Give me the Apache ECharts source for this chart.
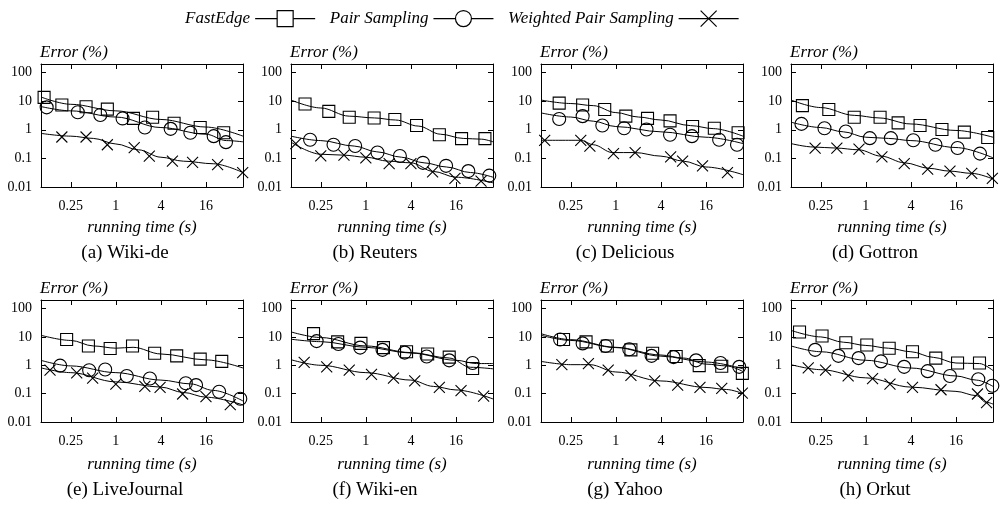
<!DOCTYPE html>
<html>
<head>
<meta charset="utf-8">
<script src="https://cdn.jsdelivr.net/npm/echarts@6/dist/echarts.min.js"></script>
<style>html,body{margin:0;padding:0;background:#fff;}#c{width:1000px;height:511px;}</style>
</head>
<body>
<div id="c"></div>
<script>
// ---------- DATA ----------
const methods = ['FastEdge', 'Pair Sampling', 'Weighted Pair Sampling'];
const panelNames = ['(a) Wiki-de', '(b) Reuters', '(c) Delicious', '(d) Gottron',
                    '(e) LiveJournal', '(f) Wiki-en', '(g) Yahoo', '(h) Orkut'];
const yTitle = 'Error (%)';
const xTitle = 'running time (s)';

// (a) Wiki-de
const wikiDeFE = [[0.11,13.6],[0.19,7.4],[0.40,6.4],[0.77,5.3],[1.72,2.5],[3.1,2.75],[6.0,1.7],[13.4,1.2],[27.6,0.79]];
const wikiDeFELine = [[0.1,14],[0.25,7.8],[1,4.6],[4,2.3],[16,1.25],[50,0.6]];
const wikiDePS = [[0.119,6.1],[0.31,4.1],[0.62,3.3],[1.23,2.5],[2.44,1.2],[5.4,1.08],[9.9,0.79],[20.3,0.6],[29.6,0.37]];
const wikiDePSLine = [[0.1,6.5],[0.25,4.6],[1,2.8],[4,1.2],[16,0.7],[30,0.42],[50,0.38]];
const wikiDeWPS = [[0.19,0.56],[0.40,0.56],[0.77,0.30],[1.76,0.24],[2.8,0.12],[5.7,0.08],[10.6,0.072],[22.9,0.061],[49.5,0.032]];
const wikiDeWPSLine = [[0.1,0.75],[0.25,0.6],[0.5,0.5],[1,0.32],[2,0.2],[4,0.11],[8,0.08],[20,0.065],[50,0.032]];

// (b) Reuters
const reutersFE = [[0.154,8.0],[0.32,4.4],[0.60,2.75],[1.29,2.6],[2.44,2.3],[4.76,1.41],[9.6,0.67],[19,0.49],[39,0.49]];
const reutersFELine = [[0.1,11],[0.25,5.8],[0.6,3.0],[1.3,2.6],[2.5,2.2],[5,1.35],[10,0.7],[20,0.5],[35,0.47],[50,0.38]];
const reutersPS = [[0.18,0.45],[0.37,0.30],[0.72,0.27],[1.43,0.16],[2.85,0.122],[5.8,0.070],[11.8,0.055],[23.4,0.036],[44.6,0.025]];
const reutersPSLine = [[0.1,0.6],[0.25,0.42],[0.7,0.27],[1.4,0.17],[3,0.11],[6,0.07],[12,0.05],[25,0.032],[50,0.022]];
const reutersWPS = [[0.116,0.33],[0.25,0.122],[0.51,0.13],[1.0,0.104],[2.05,0.066],[4.0,0.066],[7.8,0.034],[15.5,0.020],[34.6,0.016]];
const reutersWPSLine = [[0.1,0.37],[0.25,0.14],[0.5,0.13],[1,0.11],[2,0.08],[4,0.07],[8,0.035],[16,0.022],[50,0.014]];

// (c) Delicious
const deliciousFE = [[0.175,8.6],[0.36,7.4],[0.71,5.1],[1.36,3.0],[2.65,2.5],[5.3,2.05],[10.6,1.3],[20.7,1.14],[43,0.79]];
const deliciousFELine = [[0.1,11],[0.25,8.3],[0.5,7],[1,4],[2,2.8],[4,2.2],[10,1.4],[20,1.1],[50,0.6]];
const deliciousPS = [[0.175,2.4],[0.36,3.0],[0.66,1.41],[1.29,1.14],[2.57,1.03],[5.3,0.67],[10.4,0.6],[24,0.45],[41.6,0.30]];
const deliciousPSLine = [[0.1,3.9],[0.25,2.8],[0.5,2],[1,1.3],[4,0.85],[16,0.55],[50,0.33]];
const deliciousWPS = [[0.112,0.43],[0.34,0.43],[0.45,0.27],[0.93,0.147],[1.81,0.16],[5.4,0.113],[7.8,0.08],[14.4,0.055],[31,0.032]];
const deliciousWPSLine = [[0.1,0.43],[0.34,0.43],[0.5,0.3],[0.9,0.16],[1.8,0.16],[4,0.12],[8,0.08],[16,0.05],[50,0.027]];

// (d) Gottron
const gottronFE = [[0.142,7.0],[0.32,5.1],[0.70,2.75],[1.55,2.75],[2.7,1.75],[5.3,1.41],[10.4,1.03],[20.7,0.83],[42.5,0.54]];
const gottronFELine = [[0.1,11],[0.25,6],[0.7,3.2],[1.5,2.6],[4,1.6],[16,0.95],[50,0.55]];
const gottronPS = [[0.138,1.61],[0.28,1.14],[0.54,0.875],[1.13,0.51],[2.16,0.51],[4.3,0.43],[8.5,0.30],[16.8,0.23],[33.5,0.147]];
const gottronPSLine = [[0.1,1.85],[0.25,1.2],[0.5,0.85],[1,0.55],[2,0.5],[4,0.42],[16,0.24],[50,0.105]];
const gottronWPS = [[0.21,0.23],[0.41,0.23],[0.81,0.21],[1.64,0.113],[3.26,0.066],[6.7,0.042],[13.3,0.036],[26,0.030],[49,0.020]];
const gottronWPSLine = [[0.1,0.33],[0.2,0.25],[0.4,0.23],[0.8,0.2],[1.6,0.12],[3.3,0.07],[7,0.045],[13,0.036],[26,0.03],[50,0.019]];

// (e) LiveJournal
const liveJournalFE = [[0.22,8.1],[0.43,4.8],[0.84,3.9],[1.67,4.8],[3.3,2.66],[6.5,2.15],[13.4,1.65],[26,1.37]];
const liveJournalFELine = [[0.1,11.4],[0.25,7.5],[0.5,4.8],[1,4],[1.7,4.3],[4,2.5],[16,1.55],[50,0.8]];
const liveJournalPS = [[0.18,0.97],[0.44,0.67],[0.72,0.71],[1.4,0.42],[2.85,0.34],[8.6,0.233],[11.8,0.2],[24,0.117],[46,0.066]];
const liveJournalPSLine = [[0.1,1.49],[0.25,0.95],[1,0.55],[4,0.3],[10,0.22],[20,0.13],[50,0.055]];
const liveJournalWPS = [[0.132,0.67],[0.30,0.54],[0.49,0.35],[1.0,0.215],[2.44,0.179],[3.9,0.165],[7.8,0.097],[16,0.079],[33.8,0.041]];
const liveJournalWPSLine = [[0.1,0.81],[0.25,0.55],[1,0.26],[4,0.17],[8,0.11],[16,0.075],[50,0.04]];

// (f) Wiki-en
const wikiEnFE = [[0.2,13],[0.42,6.7],[0.86,5.9],[1.72,4.2],[3.5,3.0],[6.7,2.5],[13,1.94],[26.7,0.77]];
const wikiEnFELine = [[0.1,15],[0.25,9.5],[1,4.8],[4,2.8],[13,1.8],[25,0.85],[50,0.75]];
const wikiEnPS = [[0.22,7.1],[0.43,5.6],[0.84,4.2],[1.67,3.5],[3.3,2.8],[6.5,2.04],[13,1.49],[26.7,1.2]];
const wikiEnPSLine = [[0.1,8.3],[0.25,6.8],[1,4.3],[4,2.7],[16,1.5],[30,1.15],[50,1.15]];
const wikiEnWPS = [[0.15,1.27],[0.30,0.88],[0.6,0.67],[1.19,0.48],[2.34,0.35],[4.5,0.28],[9.6,0.165],[18.7,0.127],[37.5,0.081]];
const wikiEnWPSLine = [[0.1,1.57],[0.25,1.0],[1,0.55],[4,0.3],[8,0.18],[16,0.135],[50,0.065]];

// (g) Yahoo
const yahooFE = [[0.2,8.1],[0.40,6.7],[0.77,4.8],[1.59,3.5],[3.1,2.66],[6.4,2.04],[13,0.97],[26,0.92],[49,0.52]];
const yahooFELine = [[0.1,13],[0.25,8],[1,4.3],[4,2.3],[8,1.8],[16,1.1],[30,0.95],[50,0.6]];
const yahooPS = [[0.18,8.1],[0.36,5.9],[0.73,4.8],[1.51,3.66],[3.0,2.15],[5.9,1.94],[11.8,1.49],[25,1.2],[44.5,0.88]];
const yahooPSLine = [[0.1,11.4],[0.25,7.5],[1,4.2],[4,2.1],[16,1.3],[50,0.75]];
const yahooWPS = [[0.19,1.05],[0.43,1.14],[0.79,0.67],[1.59,0.44],[3.3,0.28],[6.7,0.2],[13.3,0.165],[26,0.153],[49,0.105]];
const yahooWPSLine = [[0.1,1.37],[0.25,1.05],[0.45,1.05],[1,0.58],[4,0.28],[16,0.165],[30,0.14],[50,0.1]];

// (h) Orkut
const orkutFE = [[0.13,14.9],[0.26,10.8],[0.54,6.2],[1.03,5.2],[2.05,4.0],[4.2,3.0],[8.6,1.79],[16.8,1.2],[33,1.2]];
const orkutFELine = [[0.1,17],[0.25,10],[0.5,6.5],[1,5],[2,4],[4,3],[8,1.9],[16,1.2],[33,1.15],[50,0.65]];
const orkutPS = [[0.21,3.5],[0.43,2.15],[0.8,1.79],[1.59,1.37],[3.25,0.88],[6.7,0.62],[13.3,0.42],[31.8,0.32],[49,0.19]];
const orkutPSLine = [[0.1,4.8],[0.25,3.0],[1,1.5],[4,0.8],[16,0.42],[30,0.3],[50,0.18]];
const orkutWPS = [[0.17,0.81],[0.29,0.67],[0.58,0.42],[1.23,0.34],[2.1,0.215],[4.2,0.165],[10.1,0.137],[31,0.097],[41,0.048]];
const orkutWPSLine = [[0.1,1.05],[0.25,0.7],[1,0.36],[4,0.17],[16,0.12],[30,0.085],[40,0.05],[50,0.043]];

// ---------- BUILD ----------
const panelMarkers = [
  [wikiDeFE, wikiDePS, wikiDeWPS], [reutersFE, reutersPS, reutersWPS],
  [deliciousFE, deliciousPS, deliciousWPS], [gottronFE, gottronPS, gottronWPS],
  [liveJournalFE, liveJournalPS, liveJournalWPS], [wikiEnFE, wikiEnPS, wikiEnWPS],
  [yahooFE, yahooPS, yahooWPS], [orkutFE, orkutPS, orkutWPS]
];
const panelLines = [
  [wikiDeFELine, wikiDePSLine, wikiDeWPSLine], [reutersFELine, reutersPSLine, reutersWPSLine],
  [deliciousFELine, deliciousPSLine, deliciousWPSLine], [gottronFELine, gottronPSLine, gottronWPSLine],
  [liveJournalFELine, liveJournalPSLine, liveJournalWPSLine], [wikiEnFELine, wikiEnPSLine, wikiEnWPSLine],
  [yahooFELine, yahooPSLine, yahooWPSLine], [orkutFELine, orkutPSLine, orkutWPSLine]
];

const SERIF = '"Liberation Serif", "DejaVu Serif", serif';
const symbols = ['rect', 'circle', 'path://M0,0L10,10M10,0L0,10'];
const symbolSizes = [12, 13, 11];

const grids = [], xAxes = [], yAxes = [], series = [], graphics = [];
const colLeft = [41, 291, 541, 791];
const rowTop = [64, 300];
const rowH = [123, 122];
const captionY = [253, 490];

function fmt(v) { return String(parseFloat(Number(v).toPrecision(6))); }

for (let p = 0; p < 8; p++) {
  const r = Math.floor(p / 4), c = p % 4;
  grids.push({ left: colLeft[c], top: rowTop[r], width: 202, height: rowH[r], show: false });
  const xBase = {
    type: 'log', logBase: 4, min: 0.1, max: 50, gridIndex: p,
    splitLine: { show: false },
    axisLine: { show: true, lineStyle: { color: '#000', width: 1 } },
    axisTick: { show: true, inside: true, length: 5, lineStyle: { color: '#000' } },
    minorTick: { show: false }
  };
  xAxes.push(Object.assign({}, xBase, {
    position: 'bottom',
    name: xTitle, nameLocation: 'middle', nameGap: r === 0 ? 32 : 34,
    nameTextStyle: { fontFamily: SERIF, fontStyle: 'italic', fontSize: 17, color: '#000' },
    axisLabel: { show: true, fontFamily: SERIF, fontSize: 14, color: '#000', margin: 12,
      showMinLabel: false, showMaxLabel: false, formatter: fmt }
  }));
  xAxes.push(Object.assign({}, xBase, { position: 'top', axisLabel: { show: false } }));
  const yBase = {
    type: 'log', logBase: 10, min: 0.01, max: 200, gridIndex: p,
    splitLine: { show: false },
    axisLine: { show: true, lineStyle: { color: '#000', width: 1 } },
    axisTick: { show: true, inside: true, length: 5, lineStyle: { color: '#000' } },
    minorTick: { show: false }
  };
  yAxes.push(Object.assign({}, yBase, {
    position: 'left',
    name: yTitle, nameLocation: 'end', nameGap: 3,
    nameTextStyle: { fontFamily: SERIF, fontStyle: 'italic', fontSize: 17, color: '#000', align: 'left', verticalAlign: 'bottom', padding: [0, 0, 0, -1] },
    axisLabel: { show: true, fontFamily: SERIF, fontSize: 14, color: '#000', margin: 9,
      showMaxLabel: false, formatter: fmt }
  }));
  yAxes.push(Object.assign({}, yBase, { position: 'right', axisLabel: { show: false } }));

  for (let m = 0; m < 3; m++) {
    series.push({
      type: 'line', name: methods[m], xAxisIndex: 2 * p, yAxisIndex: 2 * p,
      data: panelLines[p][m], smooth: 0.35, smoothMonotone: 'x',
      symbol: symbols[m], symbolSize: symbolSizes[m], showSymbol: false,
      itemStyle: { color: '#fff', borderColor: '#000', borderWidth: 1.2 },
      lineStyle: { color: '#000', width: 1 },
      silent: true, clip: true, z: 2
    });
    series.push({
      type: 'scatter', name: methods[m] + ' points', xAxisIndex: 2 * p, yAxisIndex: 2 * p,
      data: panelMarkers[p][m], symbol: symbols[m], symbolSize: symbolSizes[m],
      itemStyle: { color: 'rgba(0,0,0,0)', borderColor: '#000', borderWidth: 1.1, opacity: 1 },
      silent: true, clip: false, z: 3
    });
  }
  graphics.push({
    type: 'text', x: 125 + 250 * c, y: captionY[r],
    style: { text: panelNames[p], fontFamily: SERIF, fontSize: 19, fill: '#000',
      textAlign: 'center', textVerticalAlign: 'middle' }
  });
}

const chart = echarts.init(document.getElementById('c'), null, { renderer: 'canvas' });
chart.setOption({
  animation: false,
  backgroundColor: '#fff',
  legend: {
    data: methods, left: 180, top: 5, align: 'right', itemWidth: 60, itemHeight: 20, itemGap: 14,
    textStyle: { fontFamily: SERIF, fontStyle: 'italic', fontSize: 17, color: '#000' },
    itemStyle: { color: '#fff', borderColor: '#000', borderWidth: 1.2 },
    lineStyle: { color: '#000', width: 1.2 },
    selectedMode: false
  },
  grid: grids,
  xAxis: xAxes,
  yAxis: yAxes,
  series: series,
  graphic: graphics
});
</script>
</body>
</html>
